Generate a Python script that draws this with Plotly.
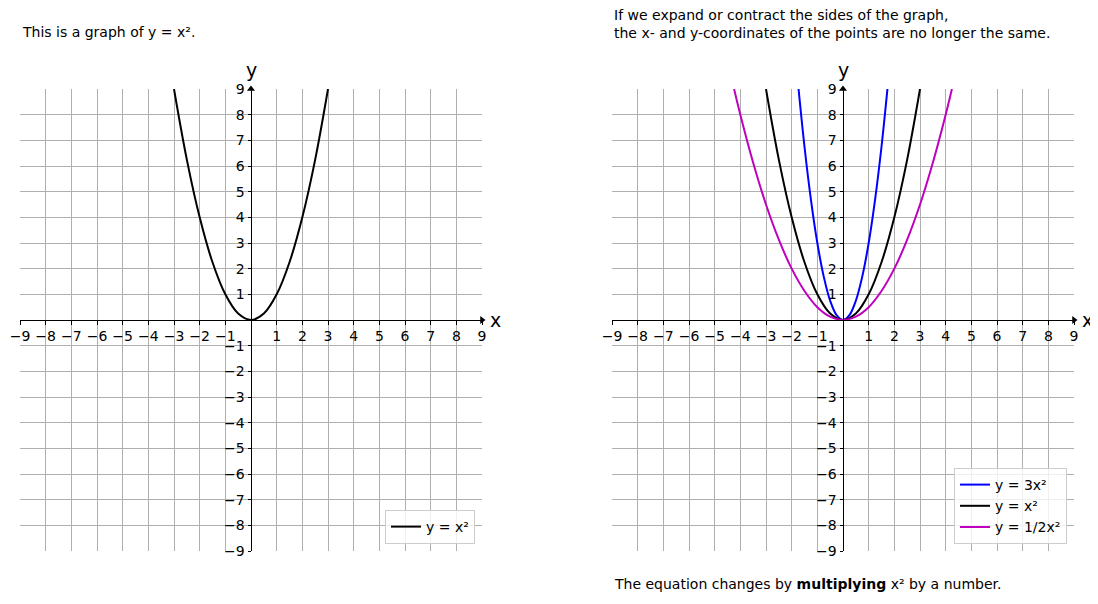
import plotly.graph_objects as go

# ---- data ----
tick_vals = [-9, -8, -7, -6, -5, -4, -3, -2, -1, 1, 2, 3, 4, 5, 6, 7, 8, 9]
tick_text = ["\u22129", "\u22128", "\u22127", "\u22126", "\u22125", "\u22124", "\u22123", "\u22122", "\u22121",
             "1", "2", "3", "4", "5", "6", "7", "8", "9"]

x_sq = [-3.0, -2.5, -2.0, -1.5, -1.0, -0.5, 0.0, 0.5, 1.0, 1.5, 2.0, 2.5, 3.0]
y_sq = [9.0, 6.25, 4.0, 2.25, 1.0, 0.25, 0.0, 0.25, 1.0, 2.25, 4.0, 6.25, 9.0]

x_3sq = [-1.732, -1.5, -1.25, -1.0, -0.75, -0.5, -0.25, 0.0, 0.25, 0.5, 0.75, 1.0, 1.25, 1.5, 1.732]
y_3sq = [9.0, 6.75, 4.69, 3.0, 1.69, 0.75, 0.19, 0.0, 0.19, 0.75, 1.69, 3.0, 4.69, 6.75, 9.0]

x_hsq = [-4.243, -4.0, -3.5, -3.0, -2.5, -2.0, -1.5, -1.0, -0.5, 0.0, 0.5, 1.0, 1.5, 2.0, 2.5, 3.0, 3.5, 4.0, 4.243]
y_hsq = [9.0, 8.0, 6.13, 4.5, 3.13, 2.0, 1.13, 0.5, 0.13, 0.0, 0.13, 0.5, 1.13, 2.0, 3.13, 4.5, 6.13, 8.0, 9.0]

names_left = ["y = x\u00b2"]
names_right = ["y = 3x\u00b2", "y = x\u00b2", "y = 1/2x\u00b2"]

title_left = "This is a graph of y = x\u00b2."
title_right = "If we expand or contract the sides of the graph,<br>the x- and y-coordinates of the points are no longer the same."
note_right = "The equation changes by <b>multiplying</b> x\u00b2 by a number."

# ---- layout geometry (page body has an 8px margin, so the figure is 8px smaller and shifted) ----
OFF = 8
W, H = 1098 - OFF, 604 - OFF
px = lambda v: (v - OFF) / W          # target page pixel -> paper x
py = lambda v: 1 - (v - OFF) / H      # target page pixel -> paper y

xd1 = [px(20), px(482)]
xd2 = [px(612), px(1074)]
yd = [py(551), py(89)]
ymid = (yd[0] + yd[1]) / 2
FONT = "DejaVu Sans"
FS = 14

fig = go.Figure()

fig.add_trace(go.Scatter(x=x_sq, y=y_sq, mode="lines", line=dict(color="black", width=2, shape="spline"),
                         name=names_left[0], xaxis="x", yaxis="y", legend="legend"))

colors = ["#0000ff", "#000000", "#bf00bf"]
for xs, ys, nm, c in zip([x_3sq, x_sq, x_hsq], [y_3sq, y_sq, y_hsq], names_right, colors):
    fig.add_trace(go.Scatter(x=xs, y=ys, mode="lines", line=dict(color=c, width=2, shape="spline"),
                             name=nm, xaxis="x2", yaxis="y2", legend="legend2"))

# arrows
for xa, ya in [("x", "y"), ("x2", "y2")]:
    fig.add_trace(go.Scatter(x=[9], y=[0], mode="markers", marker=dict(symbol="triangle-right", size=7, color="black"),
                             cliponaxis=False, showlegend=False, xaxis=xa, yaxis=ya, hoverinfo="skip"))
    fig.add_trace(go.Scatter(x=[0], y=[9], mode="markers", marker=dict(symbol="triangle-up", size=7, color="black"),
                             cliponaxis=False, showlegend=False, xaxis=xa, yaxis=ya, hoverinfo="skip"))

def common():
    return dict(range=[-9, 9], anchor="free", showline=True, linecolor="black", automargin=False,
                linewidth=1, ticks="outside", ticklen=3.5, tickcolor="black", tickvals=tick_vals, ticktext=tick_text,
                showgrid=True, gridcolor="#b0b0b0", gridwidth=1, zeroline=False,
                tickfont=dict(family=FONT, size=FS, color="black"), fixedrange=True)

def xaxis(domain):
    d = common()
    d.update(domain=domain, position=ymid)
    return d

def yaxis(xpos):
    d = common()
    d.update(domain=yd, position=xpos)
    return d

legend_style = dict(bgcolor="rgba(255,255,255,0.8)", bordercolor="#cccccc", borderwidth=1,
                    font=dict(family=FONT, size=FS, color="black"), itemwidth=30,
                    xanchor="right", yanchor="bottom", tracegroupgap=0)

fig.update_layout(
    width=W, height=H, margin=dict(l=0, r=0, t=0, b=0, pad=0, autoexpand=False),
    paper_bgcolor="white", plot_bgcolor="white",
    font=dict(family=FONT, size=FS, color="black"),
    xaxis=xaxis(xd1),
    yaxis=yaxis((xd1[0] + xd1[1]) / 2),
    xaxis2=xaxis(xd2),
    yaxis2=yaxis((xd2[0] + xd2[1]) / 2),
    legend=dict(x=px(475), y=py(544), **legend_style),
    legend2=dict(x=px(1067), y=py(544), **legend_style),
    annotations=[
        dict(text=title_left, x=px(20), y=py(32), xref="paper", yref="paper", xanchor="left", yanchor="middle",
             showarrow=False, font=dict(family=FONT, size=FS)),
        dict(text=title_right, x=px(612), y=py(24.5), xref="paper", yref="paper", xanchor="left",
             yanchor="middle", align="left", showarrow=False, font=dict(family=FONT, size=FS)),
        dict(text=note_right, x=px(612), y=py(584), xref="paper", yref="paper", xanchor="left",
             yanchor="middle", showarrow=False, font=dict(family=FONT, size=FS)),
        dict(text="x", x=9, y=0, xref="x", yref="y", xanchor="left", yanchor="middle", xshift=6, showarrow=False,
             font=dict(family=FONT, size=19)),
        dict(text="y", x=0, y=9, xref="x", yref="y", xanchor="center", yanchor="bottom", yshift=6, showarrow=False,
             font=dict(family=FONT, size=19)),
        dict(text="x", x=9, y=0, xref="x2", yref="y2", xanchor="left", yanchor="middle", xshift=6, showarrow=False,
             font=dict(family=FONT, size=19)),
        dict(text="y", x=0, y=9, xref="x2", yref="y2", xanchor="center", yanchor="bottom", yshift=6, showarrow=False,
             font=dict(family=FONT, size=19)),
    ],
)

fig.write_html("out.html")
